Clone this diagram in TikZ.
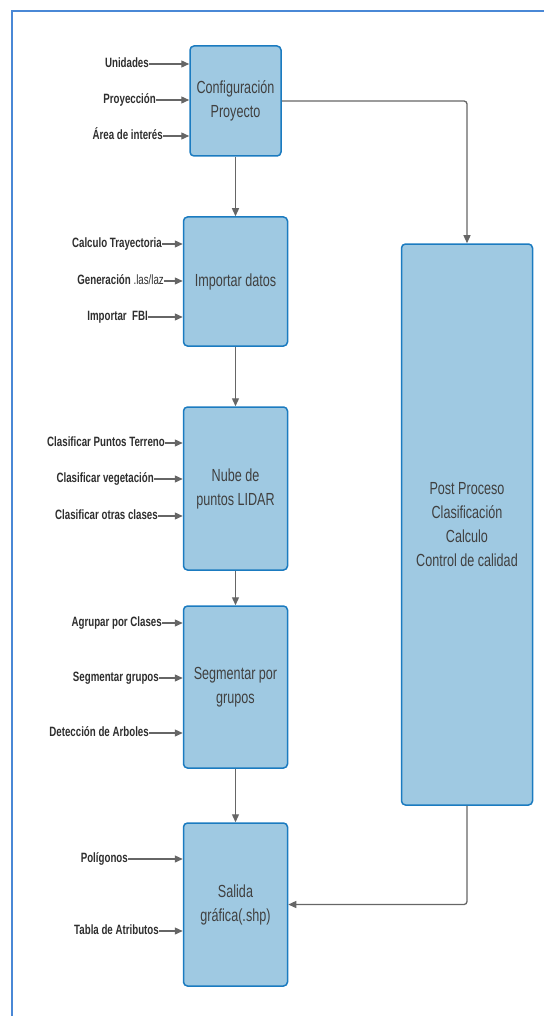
\documentclass[tikz,border=0pt]{standalone}
\usepackage{fontspec}
\setmainfont{Liberation Sans}[FakeStretch=0.72]
\usetikzlibrary{positioning,arrows.meta}
\definecolor{boxfill}{HTML}{9FC9E2}
\definecolor{boxline}{HTML}{1B7BC0}
\definecolor{arrgray}{HTML}{666666}
\definecolor{framecol}{HTML}{4A88D6}

\begin{document}
\begin{tikzpicture}[x=1pt,y=-1pt,
		proc/.style={draw=boxline, line width=1.5pt, fill=boxfill, rounded corners=4pt, text=black!75, align=center, inner sep=0pt, minimum width=104pt, font=\fontsize{17.5}{24}\selectfont},
		inp/.style={anchor=east, text=black!82, inner sep=0pt, text height=10pt, text depth=3pt, font=\fontsize{13.5}{15}\selectfont\bfseries},
		flow/.style={draw=arrgray, line width=1.3pt, -{Triangle[length=8pt,width=7pt]}}]
		\useasboundingbox (0,0) rectangle (544,1016);
		\draw[framecol, line width=2pt] (12,1016) -- (12,11) -- (544,11);

		% main chain
		\node[proc, minimum width=91pt, minimum height=110pt] (conf) at (235.5,101) {Configuración\\Proyecto};
		\node[proc, minimum height=129pt, below=59.5pt of {conf}] (imp) {Importar datos};
		\node[proc, minimum height=163pt, below=59.5pt of {imp}] (nube) {Nube de\\puntos LIDAR};
		\node[proc, minimum height=162pt, below=34.5pt of {nube}] (seg) {Segmentar por\\grupos};
		\node[proc, minimum height=163pt, below=53.5pt of {seg}] (sal) {Salida\\gráfica(.shp)};

		\node[proc, minimum width=131pt, minimum height=561pt] (post) at (467,524.5) {Post Proceso\\Clasificación\\Calculo\\Control de calidad};

		\draw[flow] (conf) -- (imp);
		\draw[flow] (imp) -- (nube);
		\draw[flow] (nube) -- (seg);
		\draw[flow] (seg) -- (sal);
		\draw[flow, rounded corners=3pt] (conf.east) -| (post.north);
		\draw[flow, rounded corners=3pt] (post.south) |- (sal.east);

		% inputs
		\node[inp] (unid) at (149,64) {Unidades};
		\node[inp] (proy) at (156,100) {Proyección};
		\node[inp] (area) at (163,136) {Área de interés};
		\draw[flow] (unid.east) -- (unid.east -| conf.west);
		\draw[flow] (proy.east) -- (proy.east -| conf.west);
		\draw[flow] (area.east) -- (area.east -| conf.west);

		\node[inp] (tray) at (162,244) {Calculo Trayectoria};
		\node[inp] (gen) at (164,281) {Generación {\mdseries .las/laz}};
		\node[inp] (fbi) at (148,317) {Importar\ \ FBI};
		\draw[flow] (tray.east) -- (tray.east -| imp.west);
		\draw[flow] (gen.east) -- (gen.east -| imp.west);
		\draw[flow] (fbi.east) -- (fbi.east -| imp.west);

		\node[inp] (terr) at (165,443) {Clasificar Puntos Terreno};
		\node[inp] (veg) at (154,479) {Clasificar vegetación};
		\node[inp] (otras) at (158,516) {Clasificar otras clases};
		\draw[flow] (terr.east) -- (terr.east -| nube.west);
		\draw[flow] (veg.east) -- (veg.east -| nube.west);
		\draw[flow] (otras.east) -- (otras.east -| nube.west);

		\node[inp] (agr) at (162,623) {Agrupar por Clases};
		\node[inp] (grp) at (159,678) {Segmentar grupos};
		\node[inp] (arb) at (149,733) {Detección de Arboles};
		\draw[flow] (agr.east) -- (agr.east -| seg.west);
		\draw[flow] (grp.east) -- (grp.east -| seg.west);
		\draw[flow] (arb.east) -- (arb.east -| seg.west);

		\node[inp] (pol) at (128,859) {Polígonos};
		\node[inp] (tab) at (159,931) {Tabla de Atributos};
		\draw[flow] (pol.east) -- (pol.east -| sal.west);
		\draw[flow] (tab.east) -- (tab.east -| sal.west);
	\end{tikzpicture}
\end{document}
